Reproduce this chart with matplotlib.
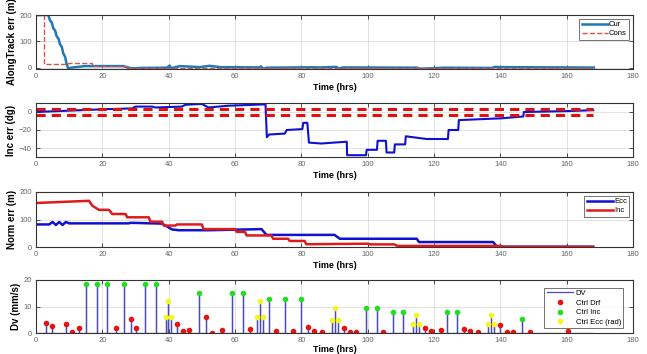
import numpy as np
import matplotlib
matplotlib.use('Agg')
import matplotlib.pyplot as plt

plt.rcParams['font.family'] = ['Liberation Sans', 'DejaVu Sans']

# painel 1 - erro along track
t_cur = [0, 3.7, 4.2, 4.8, 5.2, 5.8, 6.2, 6.8, 7.2, 7.8, 8.2, 8.8, 9.2, 9.7, 10.5, 12.7, 14.7, 18.8, 26.3,
         27.8, 29.4, 31.4, 39.5, 40.3, 40.7, 43.4, 49.5, 52.3, 55.5, 67.6, 67.8, 68.5, 69.5, 83, 85.6,
         90.6, 91.3, 92.6, 114.8, 115.8, 119.9, 123, 137.5, 138.3, 140.6, 168.2]
v_cur = [200, 200, 180, 170, 150, 140, 120, 110, 90, 78, 55, 40, 15, -3, 0, 3, 6, 6, 6,
         0, -3, -1, 0, 8, -2, 6, 2, 7, 2, 1, 5, -4, 0, 1.5, 1,
         3, -3, 1, 0, -4, -2, 0, -1, 3, 2, 0.5]
t_cons = [0, 2.5, 2.5, 9.5, 9.5, 17, 17, 28, 28, 168]
v_cons = [200, 200, 15, 15, 18, 18, 8, 8, 0, 0]

# painel 2 - erro de inclinacao
t_inc = [0, 10, 20, 29, 30, 35, 36, 44, 45, 50, 52, 58, 69.2, 69.6, 70.3, 75, 75.6, 80.3, 80.6, 81.8, 82.3,
         86, 93.7, 93.8, 99.5, 99.7, 102.8, 103, 105.5, 105.7, 108, 108.2, 111.3, 111.5, 117.8, 124.2,
         124.4, 127.3, 127.5, 140.4, 146.9, 147.1, 160, 168]
v_inc = [0, 1.5, 3, 4, 6, 6, 5, 6, 8, 9, 5, 7, 8.5, -28, -25, -24, -20, -19, -12, -12, -34,
         -35, -33, -48, -48, -42, -42, -32, -32, -45, -45, -36, -36, -27, -30, -30,
         -20, -20, -9, -7, -5, 0, 1, 2]
lim_sup = 3.5
lim_inf = -3

# painel 3 - erro normal
t_ecc = [0, 4, 5, 6, 7, 8, 9, 10, 28, 28.5, 38, 41, 43, 52, 60, 68, 69.5, 90, 91.6, 114.8, 115.5, 137.8, 139, 168]
v_ecc = [82, 82, 91, 80, 91, 80, 91, 86, 86, 88, 85, 64, 61, 61, 63, 65, 44, 44, 30, 30, 18, 18, 1, 1]
t_incn = [0, 16, 17, 19, 22, 23, 27, 27.5, 34, 34.5, 38, 38.5, 42, 42.5, 50, 50.5, 60, 60.5, 63, 63.5,
          71, 71.5, 76, 76.5, 81, 81.5, 100, 101, 108, 109, 140, 141, 168]
v_incn = [160, 168, 150, 135, 135, 120, 120, 108, 108, 92, 92, 78, 78, 82, 82, 65, 65, 55, 55, 42,
          42, 30, 30, 22, 22, 10, 12, 9.5, 9.5, 4, 4, 0.5, 0.5]

# painel 4 - impulsos
t_drf = [3.0, 4.9, 9.0, 10.9, 13.1, 24.1, 28.5, 30.3, 42.4, 44.4, 46.2, 51.4, 53.2, 56.1, 64.4, 72.3,
         77.4, 82.0, 83.9, 86.1, 92.8, 94.7, 96.5, 104.7, 117.3, 119.1, 122.0, 129.0, 130.9, 133.2,
         140.0, 141.9, 143.8, 148.8, 160.4]
v_drf = [3.6, 2.5, 3.3, 0.5, 2.0, 1.8, 5.4, 2.0, 3.3, 0.9, 1.2, 5.9, 0.1, 1.2, 1.5, 0.6,
         0.9, 2.1, 0.9, 0.5, 1.7, 0.2, 0.5, 0.5, 1.7, 0.7, 1.1, 1.4, 0.9, 0.5,
         2.9, 0.2, 0.5, 0.5, 0.7]
t_ctinc = [15.2, 18.4, 21.5, 26.5, 33.0, 36.3, 49.2, 59.0, 62.3, 70.2, 75.2, 80.0,
           99.4, 102.7, 107.7, 110.8, 123.9, 127.0, 146.6]
v_ctinc = [18.4, 18.4, 18.4, 18.4, 18.4, 18.4, 15.2, 15.2, 15.2, 12.9, 12.9, 12.9,
           9.3, 9.3, 7.8, 7.8, 7.8, 7.8, 5.4]
t_ecc_imp = [39.1, 39.9, 40.7, 66.5, 67.4, 68.3, 89.3, 90.1, 91.0, 113.8, 114.6, 115.4, 136.4, 137.3, 138.1]
v_ecc_imp = [6.1, 12.1, 6.1, 6.1, 12.1, 6.1, 4.9, 9.5, 4.9, 3.4, 6.7, 3.4, 3.4, 6.7, 3.4]
t_fim = 168

xticks = [0, 20, 40, 60, 80, 100, 120, 140, 160, 180]


def estilo(ax, ylabel, yticks, ylim, pad=2):
    ax.set_xlim(0, 180)
    ax.set_ylim(*ylim)
    ax.set_xticks(xticks)
    ax.set_yticks(yticks)
    ax.grid(True, color='#dddddd', lw=0.6)
    ax.set_axisbelow(True)
    ax.tick_params(direction='in', top=True, right=True, labelsize=5.5, labelcolor='#666666',
                   length=3, width=0.6, color='#333333', pad=3)
    for s in ax.spines.values():
        s.set_color('#333333')
        s.set_linewidth(0.8)
    ax.set_xlabel('Time (hrs)', fontsize=6.5, fontweight='bold', labelpad=pad)
    ax.set_ylabel(ylabel, fontsize=7, fontweight='bold', labelpad=2)


def legenda(ax, **kw):
    leg = ax.legend(loc='upper right', fontsize=5.5, fancybox=False, edgecolor='#333333',
                    borderpad=0.3, handlelength=3.5, **kw)
    leg.get_frame().set_linewidth(0.6)


fig = plt.figure(figsize=(6.47, 3.54), dpi=100)
L, W = 36 / 647, (633 - 36) / 647
def eixo(top, bot):
    return fig.add_axes([L, 1 - bot / 354, W, (bot - top) / 354])

ax1 = eixo(15, 69)
ax2 = eixo(103, 157)
ax3 = eixo(192, 247)
ax4 = eixo(280, 333)

# painel 1
ax1.plot(t_cur, v_cur, color='#1f78b4', lw=1.8, label='Cur')
ax1.plot(t_cons, v_cons, '--', color='#d9534f', lw=1.0, label='Cons')
estilo(ax1, 'AlongTrack err (m)', [0, 100, 200], (-5, 200))
legenda(ax1, labelspacing=0.2, handletextpad=0.1)

# painel 2
ax2.plot(t_inc, v_inc, color='#1010d0', lw=1.5)
ax2.plot([0, t_fim], [lim_sup, lim_sup], '--', color='#e01010', lw=2.2, dashes=(3, 2))
ax2.plot([0, t_fim], [lim_inf, lim_inf], '--', color='#e01010', lw=2.2, dashes=(3, 2))
estilo(ax2, 'Inc err (dg)', [-40, -20, 0], (-50, 10))

# painel 3
ax3.plot(t_ecc, v_ecc, color='#1010d0', lw=1.8, label='Ecc')
ax3.plot(t_incn, v_incn, color='#e01a1a', lw=1.8, label='Inc')
estilo(ax3, 'Norm err (m)', [0, 100, 200], (0, 200))
legenda(ax3, labelspacing=0.2, handletextpad=0.1)

# painel 4 - linha DV montada a partir dos impulsos
imp = sorted(zip(t_drf + t_ctinc + t_ecc_imp, v_drf + v_ctinc + v_ecc_imp))
tx = [0]
vy = [0]
for t, v in imp:
    tx += [t, t, t]
    vy += [0, v, 0]
tx.append(t_fim)
vy.append(0)
ax4.plot(tx, vy, color='#4a4ab8', lw=0.9, label='DV')
ax4.plot(t_drf, v_drf, 'o', color='#e81010', ms=4, mec='none', label='Ctrl Drf')
ax4.plot(t_ctinc, v_ctinc, 'o', color='#22dd22', ms=4, mec='none', label='Ctrl Inc')
ax4.plot(t_ecc_imp, v_ecc_imp, 'o', color='#f5f520', ms=4, mec='none', label='Ctrl Ecc (rad)')
estilo(ax4, 'Dv (mm/s)', [0, 10, 20], (0, 20), pad=0.5)
legenda(ax4, labelspacing=0.3, handletextpad=0.3, bbox_to_anchor=(0.99, 0.93))

fig.savefig('out.png', dpi=100)
